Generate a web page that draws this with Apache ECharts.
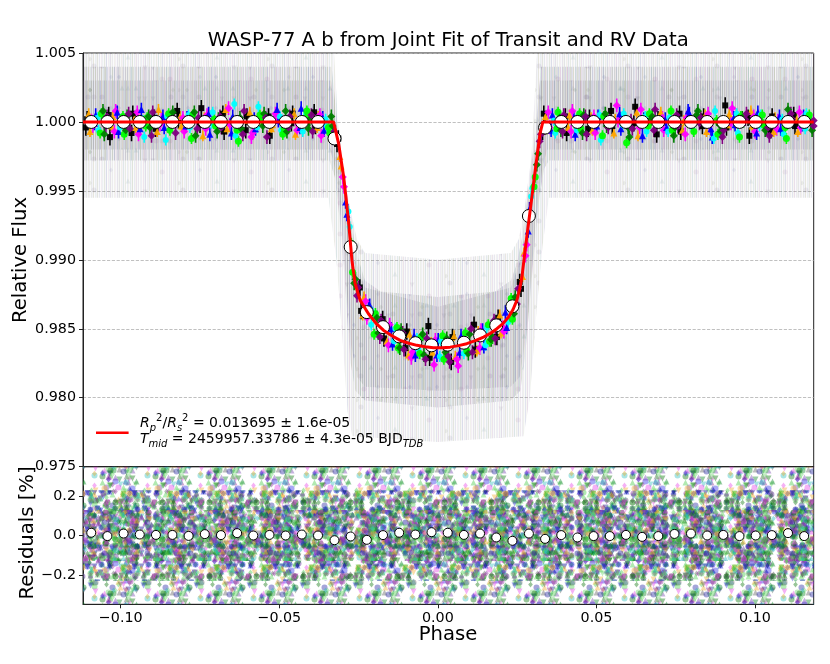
<!DOCTYPE html>
<html>
<head>
<meta charset="utf-8">
<script src="https://cdn.jsdelivr.net/npm/echarts@6.0.0/dist/echarts.min.js"></script>
<style>
  html, body { margin: 0; padding: 0; background: #fff; }
  #chart { width: 830px; height: 664px; }
</style>
</head>
<body>
<div id="chart"></div>
<script>
// 模型曲线 (红线)
const modelPhase = [-0.1119, -0.0329, -0.0313, -0.0297, -0.0282, -0.0271, -0.0261, -0.0245, -0.0219, -0.0195,
  -0.0171, -0.0145, -0.0119, -0.0092, -0.0066, -0.0040, -0.0014, 0.0013, 0.0039, 0.0065, 0.0091, 0.0118,
  0.0144, 0.0166, 0.0186, 0.0206, 0.0223, 0.0237, 0.0249, 0.0258, 0.0265, 0.0275, 0.0291, 0.0307, 0.0322,
  0.0331, 0.1185];
const modelFlux = [1.0, 1.0, 0.99843, 0.99601, 0.99287, 0.98996, 0.98827, 0.98706, 0.98609, 0.98540,
  0.98488, 0.98450, 0.98416, 0.98395, 0.98380, 0.98370, 0.98363, 0.98363, 0.98367, 0.98378, 0.98392, 0.98414,
  0.98440, 0.98468, 0.98501, 0.98540, 0.98585, 0.98640, 0.98706, 0.98790, 0.98875, 0.99069, 0.99359, 0.99650, 0.99916,
  1.0, 1.0];

// binned points (白圈)
const binPhase = [-0.1093, -0.1042, -0.0991, -0.0940, -0.0889, -0.0837, -0.0786, -0.0735, -0.0684, -0.0633,
  -0.0582, -0.0531, -0.0480, -0.0429, -0.0378, -0.0326, -0.0275, -0.0224, -0.0173, -0.0122,
  -0.0071, -0.0020, 0.0031, 0.0082, 0.0133, 0.0184, 0.0235, 0.0287, 0.0338, 0.0389,
  0.0440, 0.0491, 0.0542, 0.0593, 0.0644, 0.0695, 0.0746, 0.0798, 0.0849, 0.0900,
  0.0951, 0.1002, 0.1053, 0.1104, 0.1155];
const binFlux = [1.0, 1.0, 1.0, 1.0, 1.0, 1.0, 1.0, 1.0, 1.0, 1.0,
  1.0, 1.0, 1.0, 1.0, 1.0, 0.9988, 0.99093, 0.98621, 0.98512, 0.98445,
  0.98396, 0.98380, 0.98385, 0.98399, 0.98452, 0.98525, 0.98663, 0.99318, 0.99959, 1.0,
  1.0, 1.0, 1.0, 1.0, 1.0, 1.0, 1.0, 1.0, 1.0, 1.0,
  1.0, 1.0, 1.0, 1.0, 1.0];
const binResid = [0.014, -0.003, 0.010, 0.005, 0.003, 0.003, -0.002, 0.007, 0.002, 0.012,
  0.000, 0.003, 0.000, 0.005, 0.000, -0.024, -0.005, -0.022, 0.002, 0.014,
  0.005, 0.017, 0.014, 0.003, 0.010, -0.010, -0.027, 0.010, -0.017, 0.002,
  -0.010, -0.003, -0.003, 0.003, -0.007, -0.003, 0.008, 0.010, 0.000, 0.003,
  -0.003, 0.000, 0.002, 0.012, -0.003];

// 各仪器的数据点 [phase, flux]
const ptBlack = [[-0.1110,0.9996],[-0.1038,1.0005],[-0.0966,0.9992],[-0.0894,1.0003],[-0.0822,1.0008],[-0.0750,0.9998],[-0.0678,1.0006],[-0.0606,0.9994],[-0.0534,1.0004],[-0.0462,0.9999],[-0.0390,1.0007],[-0.0318,0.9984],[-0.0246,0.9880],[-0.0174,0.9857],[-0.0102,0.9836],[-0.0030,0.9852],[0.0042,0.9826],[0.0114,0.9853],[0.0186,0.9844],[0.0258,0.9884],[0.0330,0.9993],[0.0402,1.0004],[0.0474,0.9995],[0.0546,1.0008],[0.0618,0.9999],[0.0690,0.9991],[0.0762,1.0006],[0.0834,0.9997],[0.0906,1.0012],[0.0978,1.0003],[0.1050,0.9994],[0.1122,1.0005],
  [-0.1106,1.0002],[-0.1034,0.9989],[-0.0962,1.0006],[-0.0890,0.9995],[-0.0818,1.0001],[-0.0746,1.0010],[-0.0674,0.9993],[-0.0602,1.0004],[-0.0530,0.9990],[-0.0458,1.0006],[-0.0386,0.9997],[-0.0314,0.9988],[-0.0242,0.9863],[-0.0170,0.9843],[-0.0098,0.9848],[-0.0026,0.9829],[0.0046,0.9844],[0.0118,0.9835],[0.0190,0.9858],[0.0262,0.9879],[0.0334,1.0006],[0.0406,0.9992],[0.0478,1.0003],[0.0550,0.9997],[0.0622,1.0011],[0.0694,1.0002],[0.0766,0.9993],[0.0838,1.0004],[0.0910,0.9996],[0.0982,0.9990],[0.1054,1.0004],[0.1126,0.9997]];
const ptOrange = [[-0.1101,1.0006],[-0.1029,0.9997],[-0.0957,1.0002],[-0.0885,0.9993],[-0.0813,1.0004],[-0.0741,0.9990],[-0.0669,1.0009],[-0.0597,1.0001],[-0.0525,0.9995],[-0.0453,1.0006],[-0.0381,0.9996],[-0.0309,0.9975],[-0.0237,0.9860],[-0.0165,0.9852],[-0.0093,0.9831],[-0.0021,0.9840],[0.0051,0.9845],[0.0123,0.9834],[0.0195,0.9860],[0.0267,0.9888],[0.0339,1.0004],[0.0411,0.9996],[0.0483,1.0003],[0.0555,0.9992],[0.0627,1.0007],[0.0699,1.0000],[0.0771,0.9994],[0.0843,1.0005],[0.0915,0.9998],[0.0987,1.0008],[0.1059,0.9993],[0.1131,1.0002],
  [-0.1097,0.9993],[-0.1025,1.0004],[-0.0953,0.9996],[-0.0881,1.0009],[-0.0809,0.9997],[-0.0737,1.0003],[-0.0665,0.9995],[-0.0593,1.0007],[-0.0521,0.9998],[-0.0449,0.9991],[-0.0377,1.0004],[-0.0305,0.9968],[-0.0233,0.9873],[-0.0161,0.9841],[-0.0089,0.9846],[-0.0017,0.9833],[0.0055,0.9830],[0.0127,0.9848],[0.0199,0.9847],[0.0271,0.9905],[0.0343,0.9995],[0.0415,1.0005],[0.0487,0.9994],[0.0559,1.0002],[0.0631,0.9990],[0.0703,1.0007],[0.0775,1.0001],[0.0847,0.9993],[0.0919,1.0006],[0.0991,0.9997],[0.1063,1.0003],[0.1135,0.9993]];
const ptMagenta = [[-0.1092,1.0001],[-0.1020,0.9993],[-0.0948,1.0007],[-0.0876,0.9998],[-0.0804,1.0003],[-0.0732,0.9995],[-0.0660,1.0010],[-0.0588,0.9989],[-0.0516,1.0002],[-0.0444,0.9994],[-0.0372,1.0005],[-0.0300,0.9960],[-0.0228,0.9870],[-0.0156,0.9838],[-0.0084,0.9829],[-0.0012,0.9824],[0.0060,0.9828],[0.0132,0.9836],[0.0204,0.9851],[0.0276,0.9903],[0.0348,1.0007],[0.0420,0.9993],[0.0492,1.0004],[0.0564,1.0012],[0.0636,0.9996],[0.0708,1.0003],[0.0780,0.9991],[0.0852,1.0006],[0.0924,0.9999],[0.0996,1.0004],[0.1068,0.9995],[0.1140,1.0007],
  [-0.1088,0.9997],[-0.1016,1.0008],[-0.0944,0.9991],[-0.0872,1.0002],[-0.0800,0.9993],[-0.0728,1.0005],[-0.0656,0.9998],[-0.0584,0.9992],[-0.0512,1.0006],[-0.0440,0.9998],[-0.0368,0.9990],[-0.0296,0.9953],[-0.0224,0.9858],[-0.0152,0.9853],[-0.0080,0.9833],[-0.0008,0.9842],[0.0064,0.9823],[0.0136,0.9849],[0.0208,0.9848],[0.0280,0.9911],[0.0352,0.9996],[0.0424,1.0008],[0.0496,0.9992],[0.0568,1.0001],[0.0640,1.0009],[0.0712,0.9994],[0.0784,1.0003],[0.0856,0.9997],[0.0928,1.0010],[0.1000,0.9993],[0.1072,1.0001],[0.1144,0.9996]];
const ptBlue = [[-0.1083,0.9999],[-0.1011,1.0007],[-0.0939,0.9995],[-0.0867,1.0004],[-0.0795,0.9997],[-0.0723,1.0006],[-0.0651,0.9992],[-0.0579,1.0002],[-0.0507,1.0009],[-0.0435,0.9996],[-0.0363,1.0003],[-0.0291,0.9942],[-0.0219,0.9866],[-0.0147,0.9850],[-0.0075,0.9845],[-0.0003,0.9831],[0.0069,0.9833],[0.0141,0.9849],[0.0213,0.9862],[0.0285,0.9921],[0.0357,0.9994],[0.0429,1.0003],[0.0501,0.9997],[0.0573,1.0006],[0.0645,0.9990],[0.0717,1.0002],[0.0789,1.0008],[0.0861,0.9995],[0.0933,1.0003],[0.1005,0.9992],[0.1077,1.0004],[0.1149,0.9998],
  [-0.1079,1.0005],[-0.1007,0.9993],[-0.0935,1.0009],[-0.0863,0.9996],[-0.0791,1.0003],[-0.0719,0.9991],[-0.0647,1.0004],[-0.0575,0.9995],[-0.0503,1.0001],[-0.0431,1.0010],[-0.0359,0.9994],[-0.0287,0.9933],[-0.0215,0.9867],[-0.0143,0.9839],[-0.0071,0.9831],[0.0001,0.9842],[0.0073,0.9845],[0.0145,0.9837],[0.0217,0.9851],[0.0289,0.9937],[0.0361,1.0005],[0.0433,0.9991],[0.0505,1.0004],[0.0577,0.9995],[0.0649,1.0002],[0.0721,0.9996],[0.0793,1.0006],[0.0865,0.9989],[0.0937,0.9998],[0.1009,1.0007],[0.1081,0.9995],[0.1153,1.0004]];
const ptCyan = [[-0.1074,1.0003],[-0.1002,0.9996],[-0.0930,1.0001],[-0.0858,0.9987],[-0.0786,1.0005],[-0.0714,0.9999],[-0.0642,1.0013],[-0.0570,0.9996],[-0.0498,1.0004],[-0.0426,0.9993],[-0.0354,1.0002],[-0.0282,0.9935],[-0.0210,0.9853],[-0.0138,0.9841],[-0.0066,0.9843],[0.0006,0.9830],[0.0078,0.9841],[0.0150,0.9838],[0.0222,0.9855],[0.0294,0.9946],[0.0366,1.0001],[0.0438,0.9994],[0.0510,1.0005],[0.0582,0.9998],[0.0654,1.0004],[0.0726,0.9993],[0.0798,1.0001],[0.0870,0.9988],[0.0942,1.0006],[0.1014,0.9997],[0.1086,1.0002],[0.1158,0.9995],
  [-0.1070,0.9994],[-0.0998,1.0002],[-0.0926,0.9989],[-0.0854,1.0004],[-0.0782,0.9996],[-0.0710,1.0007],[-0.0638,0.9990],[-0.0566,1.0011],[-0.0494,0.9994],[-0.0422,1.0003],[-0.0350,0.9997],[-0.0278,0.9924],[-0.0206,0.9862],[-0.0134,0.9850],[-0.0062,0.9835],[0.0010,0.9841],[0.0082,0.9832],[0.0154,0.9851],[0.0226,0.9866],[0.0298,0.9952],[0.0370,0.9992],[0.0442,1.0004],[0.0514,0.9987],[0.0586,1.0006],[0.0658,0.9993],[0.0730,1.0003],[0.0802,0.9996],[0.0874,1.0008],[0.0946,0.9992],[0.1018,1.0005],[0.1090,0.9991],[0.1162,1.0006]];
const ptLime = [[-0.1065,0.9992],[-0.0993,1.0004],[-0.0921,0.9997],[-0.0849,1.0006],[-0.0777,0.9988],[-0.0705,1.0002],[-0.0633,0.9994],[-0.0561,1.0005],[-0.0489,0.9991],[-0.0417,1.0003],[-0.0345,0.9996],[-0.0273,0.9912],[-0.0201,0.9846],[-0.0129,0.9851],[-0.0057,0.9832],[0.0015,0.9845],[0.0087,0.9847],[0.0159,0.9853],[0.0231,0.9872],[0.0303,0.9953],[0.0375,0.9995],[0.0447,1.0006],[0.0519,0.9990],[0.0591,1.0002],[0.0663,0.9997],[0.0735,1.0008],[0.0807,0.9993],[0.0879,1.0001],[0.0951,0.9989],[0.1023,1.0005],[0.1095,0.9996],[0.1167,1.0003],
  [-0.1061,1.0006],[-0.0989,0.9991],[-0.0917,1.0003],[-0.0845,0.9994],[-0.0773,1.0005],[-0.0701,0.9997],[-0.0629,0.9986],[-0.0557,1.0002],[-0.0485,0.9995],[-0.0413,1.0008],[-0.0341,0.9992],[-0.0269,0.9891],[-0.0197,0.9861],[-0.0125,0.9836],[-0.0053,0.9844],[0.0019,0.9828],[0.0091,0.9834],[0.0163,0.9841],[0.0235,0.9857],[0.0307,0.9960],[0.0379,1.0007],[0.0451,0.9995],[0.0523,1.0004],[0.0595,0.9985],[0.0667,1.0006],[0.0739,0.9994],[0.0811,1.0002],[0.0883,0.9991],[0.0955,1.0004],[0.1027,0.9998],[0.1099,0.9988],[0.1171,1.0005]];
const ptGreen = [[-0.1056,1.0008],[-0.0984,0.9994],[-0.0912,1.0004],[-0.0840,0.9999],[-0.0768,1.0007],[-0.0696,0.9993],[-0.0624,1.0003],[-0.0552,0.9997],[-0.0480,1.0008],[-0.0408,0.9995],[-0.0336,1.0004],[-0.0264,0.9883],[-0.0192,0.9858],[-0.0120,0.9836],[-0.0048,0.9846],[0.0024,0.9833],[0.0096,0.9832],[0.0168,0.9842],[0.0240,0.9861],[0.0312,0.9969],[0.0384,1.0003],[0.0456,0.9992],[0.0528,1.0006],[0.0600,0.9996],[0.0672,1.0002],[0.0744,0.9990],[0.0816,1.0005],[0.0888,0.9998],[0.0960,1.0003],[0.1032,0.9994],[0.1104,1.0009],[0.1176,0.9999],
  [-0.1052,0.9991],[-0.0980,1.0004],[-0.0908,0.9996],[-0.0836,1.0007],[-0.0764,0.9990],[-0.0692,1.0002],[-0.0620,0.9995],[-0.0548,1.0006],[-0.0476,0.9993],[-0.0404,1.0002],[-0.0332,0.9997],[-0.0260,0.9886],[-0.0188,0.9847],[-0.0116,0.9849],[-0.0044,0.9831],[0.0028,0.9843],[0.0100,0.9846],[0.0172,0.9844],[0.0244,0.9873],[0.0316,0.9977],[0.0388,0.9994],[0.0460,1.0005],[0.0532,0.9997],[0.0604,0.9989],[0.0676,1.0004],[0.0748,0.9996],[0.0820,1.0008],[0.0892,0.9993],[0.0964,1.0001],[0.1036,0.9995],[0.1108,1.0003],[0.1180,0.9994]];
const ptPurple = [[-0.1047,0.9997],[-0.0975,1.0006],[-0.0903,0.9990],[-0.0831,1.0002],[-0.0759,0.9995],[-0.0687,1.0004],[-0.0615,0.9991],[-0.0543,1.0003],[-0.0471,0.9996],[-0.0399,1.0005],[-0.0327,0.9993],[-0.0255,0.9874],[-0.0183,0.9844],[-0.0111,0.9847],[-0.0039,0.9828],[0.0033,0.9830],[0.0105,0.9850],[0.0177,0.9856],[0.0249,0.9868],[0.0321,0.9986],[0.0393,0.9993],[0.0465,1.0004],[0.0537,0.9996],[0.0609,1.0001],[0.0681,0.9994],[0.0753,1.0005],[0.0825,0.9999],[0.0897,0.9989],[0.0969,1.0002],[0.1041,0.9996],[0.1113,1.0006],[0.1185,1.0001],
  [-0.1043,1.0004],[-0.0971,0.9995],[-0.0899,1.0007],[-0.0827,0.9992],[-0.0755,1.0003],[-0.0683,0.9996],[-0.0611,1.0008],[-0.0539,0.9989],[-0.0467,1.0004],[-0.0395,0.9993],[-0.0323,0.9990],[-0.0251,0.9880],[-0.0179,0.9856],[-0.0107,0.9835],[-0.0035,0.9843],[0.0037,0.9826],[0.0109,0.9833],[0.0181,0.9843],[0.0253,0.9879],[0.0325,0.9991],[0.0397,1.0005],[0.0469,0.9991],[0.0541,1.0002],[0.0613,0.9995],[0.0685,1.0009],[0.0757,0.9997],[0.0829,1.0003],[0.0901,0.9994],[0.0973,1.0006],[0.1045,0.9990],[0.1117,1.0002],[0.1185,0.9997]];
const ptErr = [0.0006, 0.0004, 0.0005, 0.0005, 0.0004, 0.0004, 0.0005, 0.0005];

// 背景雾状散点的上下包络 (由外到内三层)
const hazeFaintHiP = [-0.1119,-0.0330,-0.0315,-0.0295,-0.0275,-0.0255,-0.0230,0,0.0230,0.0255,0.0275,0.0295,0.0315,0.1185];
const hazeFaintHiF = [1.0060,1.0060,1.0000,0.9960,0.9935,0.9915,0.9905,0.9900,0.9905,0.9915,0.9940,0.9975,1.0060,1.0060];
const hazeFaintLoP = [-0.1119,-0.0345,-0.0320,-0.0300,-0.0285,-0.0270,0,0.0270,0.0290,0.0310,0.0330,0.0350,0.1185];
const hazeFaintLoF = [0.9945,0.9945,0.9900,0.9840,0.9790,0.9772,0.9768,0.9772,0.9800,0.9860,0.9910,0.9945,0.9945];
const hazeDenseHiP = [-0.1119,-0.0335,-0.0322,-0.0305,-0.0285,-0.0268,-0.0250,-0.0230,-0.0180,0,0.0180,0.0230,0.0250,0.0268,0.0288,0.0308,0.0325,0.1185];
const hazeDenseHiF = [1.0040,1.0040,1.0010,0.9975,0.9945,0.9920,0.9900,0.9885,0.9877,0.9873,0.9877,0.9885,0.9898,0.9920,0.9955,0.9995,1.0040,1.0040];
const hazeDenseLoP = [-0.1119,-0.0342,-0.0325,-0.0310,-0.0295,-0.0285,-0.0275,-0.0260,-0.0230,0,0.0230,0.0260,0.0275,0.0290,0.0305,0.0320,0.0335,0.0350,0.1185];
const hazeDenseLoF = [0.9972,0.9972,0.9960,0.9930,0.9890,0.9855,0.9825,0.9805,0.9798,0.9793,0.9798,0.9805,0.9830,0.9870,0.9910,0.9945,0.9966,0.9972,0.9972];
const hazeCoreHiP = [-0.1119,-0.0337,-0.0322,-0.0300,-0.0280,-0.0260,-0.0230,0,0.0230,0.0260,0.0282,0.0305,0.0322,0.1185];
const hazeCoreHiF = [1.0030,1.0030,1.0000,0.9960,0.9925,0.9900,0.9880,0.9866,0.9880,0.9900,0.9930,0.9975,1.0030,1.0030];
const hazeCoreLoP = [-0.1119,-0.0340,-0.0322,-0.0305,-0.0290,-0.0275,-0.0255,-0.0230,0,0.0230,0.0258,0.0278,0.0295,0.0312,0.0330,0.0345,0.1185];
const hazeCoreLoF = [0.9980,0.9980,0.9965,0.9930,0.9885,0.9840,0.9815,0.9808,0.9805,0.9808,0.9815,0.9845,0.9890,0.9935,0.9968,0.9980,0.9980];

// 残差散点的范围
const resP = [-0.1119, 0.1185];
const resOuterLo = [-0.36, -0.36];
const resOuterHi = [0.36, 0.36];
const resInnerLo = [-0.23, -0.23];
const resInnerHi = [0.23, 0.23];
const resCoreLo = [-0.13, -0.13];
const resCoreHi = [0.13, 0.13];

const xTicks = [-0.10, -0.05, 0.00, 0.05, 0.10];
const resTicks = [-0.2, 0.0, 0.2];

const FONT = 'DejaVu Sans';
const minus = s => s.replace('-', '\u2212');

// 纹理：竖直误差线的雾
function streaks(alphaScale, w) {
  const c = document.createElement('canvas');
  c.width = w; c.height = 31;
  const g = c.getContext('2d');
  const cols = ['120,100,150', '110,130,90', '130,130,140', '90,100,160', '140,140,100', '160,110,160', '90,140,140'];
  const alph = [0.5, 0.2, 0.8, 0.35, 1.0, 0.15, 0.6, 0.45, 0.9, 0.25, 0.7, 0.1, 0.55];
  for (let x = 0; x < w; x++) {
    g.fillStyle = 'rgba(' + cols[x % cols.length] + ',' + (alph[x % alph.length] * alphaScale) + ')';
    g.fillRect(x, 0, 1, c.height);
  }
  for (let i = 0; i < 6; i++) {
    g.fillStyle = 'rgba(' + cols[(i * 3) % cols.length] + ',' + (0.5 * alphaScale) + ')';
    drawShape(g, i % 4, (i * 17 + 5) % w, (i * 11 + 4) % 31, 5);
  }
  return c;
}

// 纹理：残差图里的彩色小标记
const resColors = ['60,200,60', '0,110,0', '40,40,230', '130,30,150', '70,210,70', '240,170,40', '90,90,90',
  '0,130,30', '40,190,190', '230,60,230', '30,30,160', '100,210,100', '110,60,170'];
function drawShape(g, k, x, y, s) {
  g.beginPath();
  if (k === 0) { g.arc(x, y, s / 2, 0, Math.PI * 2); }
  else if (k === 1) { g.moveTo(x, y - s / 2); g.lineTo(x + s / 2.6, y); g.lineTo(x, y + s / 2); g.lineTo(x - s / 2.6, y); }
  else if (k === 2) { g.moveTo(x, y - s / 2); g.lineTo(x + s / 2, y + s / 2); g.lineTo(x - s / 2, y + s / 2); }
  else { g.moveTo(x, y + s / 2); g.lineTo(x + s / 2, y - s / 2); g.lineTo(x - s / 2, y - s / 2); }
  g.closePath();
  g.fill();
}
function speckle(w, h, n, alpha, size, seed) {
  const c = document.createElement('canvas');
  c.width = w; c.height = h;
  const g = c.getContext('2d');
  for (let i = 0; i < n; i++) {
    const x = (i * i * 7 + i * 22 + seed) % w + 0.5, y = ((i * 104729 + seed * 31) % 997) % h + 0.5;
    g.fillStyle = 'rgba(' + resColors[(i + seed) % resColors.length] + ',' + alpha + ')';
    for (const ox of [-w, 0, w]) for (const oy of [-h, 0, h]) drawShape(g, (i + seed) % 4, x + ox, y + oy, size);
  }
  return c;
}

// 多边形带子, 通过坐标轴换算
function band(xi, yi, hiP, hiV, loP, loV, fill, z) {
  return {
    type: 'custom', xAxisIndex: xi, yAxisIndex: yi, z: z, silent: true, clip: true,
    data: [[hiP[0], hiV[0]]],
    renderItem: function(params, api) {
      const top = hiP.map((p, i) => api.coord([p, hiV[i]]));
      const bot = loP.map((p, i) => api.coord([p, loV[i]])).reverse();
      return { type: 'polygon', shape: { points: top.concat(bot) }, style: { fill: fill } };
    },
  };
}

function errBars(data, err, color) {
  return {
    type: 'custom', xAxisIndex: 0, yAxisIndex: 0, z: 3, silent: true, clip: true,
    data: data,
    renderItem: function(params, api) {
      const p = api.value(0), f = api.value(1);
      const a = api.coord([p, f - err]), b = api.coord([p, f + err]);
      return { type: 'line', shape: { x1: a[0], y1: a[1], x2: b[0], y2: b[1] }, style: { stroke: color, lineWidth: 1.6 } };
    },
  };
}

const instruments = [
  { data: ptBlack, color: '#000000', symbol: 'rect', size: 6 },
  { data: ptOrange, color: '#ffa500', symbol: 'triangle', size: 7 },
  { data: ptMagenta, color: '#ff00ff', symbol: 'diamond', size: 8 },
  { data: ptBlue, color: '#0000ff', symbol: 'triangle', size: 7 },
  { data: ptCyan, color: '#00ffff', symbol: 'circle', size: 6 },
  { data: ptLime, color: '#00ff00', symbol: 'circle', size: 7 },
  { data: ptGreen, color: '#008000', symbol: 'diamond', size: 8 },
  { data: ptPurple, color: '#800080', symbol: 'diamond', size: 8 },
];

const series = [
  band(0, 0, hazeFaintHiP, hazeFaintHiF, hazeFaintLoP, hazeFaintLoF, { image: streaks(0.22, 89), repeat: 'repeat' }, 1),
  band(0, 0, hazeDenseHiP, hazeDenseHiF, hazeDenseLoP, hazeDenseLoF, { image: streaks(0.3, 97), repeat: 'repeat' }, 1),
  band(0, 0, hazeCoreHiP, hazeCoreHiF, hazeCoreLoP, hazeCoreLoF, { image: streaks(0.28, 83), repeat: 'repeat' }, 1),
  band(1, 1, resP, resOuterHi, resP, resOuterLo, { image: speckle(53, 41, 95, 0.4, 6, 0), repeat: 'repeat' }, 1),
  band(1, 1, resP, resInnerHi, resP, resInnerLo, { image: speckle(47, 37, 100, 0.48, 6, 3), repeat: 'repeat' }, 1),
  band(1, 1, resP, resCoreHi, resP, resCoreLo, { image: speckle(43, 31, 70, 0.45, 6, 5), repeat: 'repeat' }, 1),
];
instruments.forEach((ins, k) => {
  series.push(errBars(ins.data, ptErr[k], ins.color));
  series.push({
    type: 'scatter', xAxisIndex: 0, yAxisIndex: 0, z: 4, silent: true,
    data: ins.data, symbol: ins.symbol, symbolSize: ins.size,
    itemStyle: { color: ins.color, opacity: 0.95 },
  });
});
series.push({
  type: 'scatter', xAxisIndex: 0, yAxisIndex: 0, z: 5, silent: true,
  data: binPhase.map((p, i) => [p, binFlux[i]]),
  symbol: 'circle', symbolSize: 13,
  itemStyle: { color: '#ffffff', borderColor: '#000000', borderWidth: 1, opacity: 1 },
});
series.push({
  type: 'line', xAxisIndex: 0, yAxisIndex: 0, z: 6, silent: true,
  data: modelPhase.map((p, i) => [p, modelFlux[i]]),
  showSymbol: false, clip: true,
  lineStyle: { color: '#ff0000', width: 3 },
});
series.push({
  type: 'scatter', xAxisIndex: 1, yAxisIndex: 1, z: 5, silent: true,
  data: binPhase.map((p, i) => [p, binResid[i]]),
  symbol: 'circle', symbolSize: 9,
  itemStyle: { color: '#ffffff', borderColor: '#000000', borderWidth: 1, opacity: 1 },
});

const axisLine = { show: true, onZero: false, lineStyle: { color: '#222', width: 1 } };
const tickStyle = { show: true, length: 4, inside: false, lineStyle: { color: '#222', width: 1 } };
const labelStyle = { color: '#000', fontFamily: FONT, fontSize: 14.3, margin: 7 };

const option = {
  animation: false,
  backgroundColor: '#ffffff',
  grid: [
    { left: 83, right: 16.3, top: 53, height: 413.7, show: true, borderColor: '#222', borderWidth: 1, backgroundColor: 'transparent' },
    { left: 83, right: 16.3, top: 466.7, height: 137.6, show: true, borderColor: '#222', borderWidth: 1, backgroundColor: 'transparent' },
  ],
  xAxis: [
    { type: 'value', gridIndex: 0, min: -0.1119, max: 0.1185,
      axisLine: axisLine, axisTick: { show: false }, axisLabel: { show: false }, splitLine: { show: false } },
    { type: 'value', gridIndex: 1, min: -0.1119, max: 0.1185,
      axisLine: axisLine,
      axisTick: Object.assign({ customValues: xTicks }, tickStyle),
      axisLabel: Object.assign({ customValues: xTicks, formatter: v => minus(v.toFixed(2)) }, labelStyle),
      splitLine: { show: false } },
  ],
  yAxis: [
    { type: 'value', gridIndex: 0, min: 0.975, max: 1.005, interval: 0.005,
      axisLine: axisLine, axisTick: tickStyle,
      axisLabel: Object.assign({ formatter: v => v.toFixed(3), showMinLabel: true, showMaxLabel: true }, labelStyle),
      splitLine: { show: true, lineStyle: { type: 'dashed', color: '#b0b0b0', width: 0.8 } } },
    { type: 'value', gridIndex: 1, min: -0.35, max: 0.35,
      axisLine: axisLine,
      axisTick: Object.assign({ customValues: resTicks }, tickStyle),
      axisLabel: Object.assign({ customValues: resTicks, formatter: v => minus(v.toFixed(1)) }, labelStyle),
      splitLine: { show: false } },
  ],
  series: series,
  graphic: [
    { type: 'text', x: 448.3, y: 41, silent: true,
      style: { text: 'WASP-77 A b from Joint Fit of Transit and RV Data', fontFamily: FONT, fontSize: 19.6, fill: '#000', align: 'center', verticalAlign: 'middle' } },
    { type: 'text', x: 20.5, y: 260, rotation: Math.PI / 2, silent: true,
      style: { text: 'Relative Flux', fontFamily: FONT, fontSize: 19.6, fill: '#000', align: 'center', verticalAlign: 'middle' } },
    { type: 'text', x: 27.5, y: 533, rotation: Math.PI / 2, silent: true,
      style: { text: 'Residuals [%]', fontFamily: FONT, fontSize: 19.6, fill: '#000', align: 'center', verticalAlign: 'middle' } },
    { type: 'text', x: 448, y: 635, silent: true,
      style: { text: 'Phase', fontFamily: FONT, fontSize: 19.6, fill: '#000', align: 'center', verticalAlign: 'middle' } },
    { type: 'line', silent: true, z: 100,
      shape: { x1: 96, y1: 432.7, x2: 128.6, y2: 432.7 }, style: { stroke: '#ff0000', lineWidth: 2.5 } },
    { type: 'text', x: 140, y: 423, silent: true, z: 100,
      style: {
        text: '{it|R}{sb|p}{sp|2}{n|/}{it|R}{sb|s}{sp|2}{n| = 0.013695 \u00b1 1.6e-05}',
        verticalAlign: 'middle', align: 'left',
        rich: {
          n: { fontFamily: FONT, fontSize: 14, fill: '#000', lineHeight: 20 },
          it: { fontFamily: FONT, fontSize: 14, fontStyle: 'italic', fill: '#000', lineHeight: 20 },
          sb: { fontFamily: FONT, fontSize: 10, fontStyle: 'italic', fill: '#000', lineHeight: 20, verticalAlign: 'bottom' },
          sp: { fontFamily: FONT, fontSize: 10, fill: '#000', lineHeight: 20, verticalAlign: 'top' },
        },
      } },
    { type: 'text', x: 140, y: 439, silent: true, z: 100,
      style: {
        text: '{it|T}{sb|mid}{n| = 2459957.33786 \u00b1 4.3e-05 BJD}{sb|TDB}',
        verticalAlign: 'middle', align: 'left',
        rich: {
          n: { fontFamily: FONT, fontSize: 14, fill: '#000', lineHeight: 20 },
          it: { fontFamily: FONT, fontSize: 14, fontStyle: 'italic', fill: '#000', lineHeight: 20 },
          sb: { fontFamily: FONT, fontSize: 10, fontStyle: 'italic', fill: '#000', lineHeight: 20, verticalAlign: 'bottom' },
        },
      } },
  ],
};

const chart = echarts.init(document.getElementById('chart'));
chart.setOption(option);
</script>
</body>
</html>
